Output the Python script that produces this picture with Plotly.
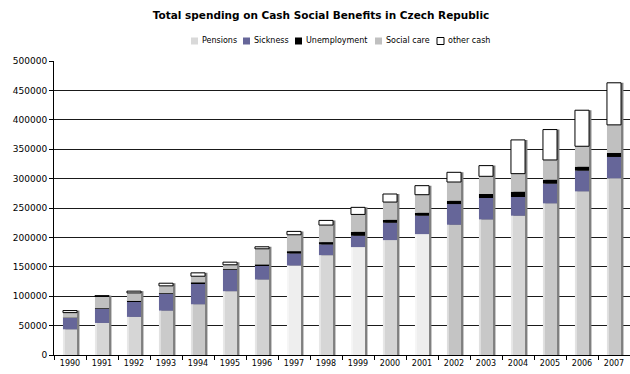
import numpy as np
import plotly.graph_objects as go

# ---- data -------------------------------------------------------------
years = [str(y) for y in range(1990, 2008)]

pensions = [43700, 54500, 64800, 75500, 86300, 108500, 128400, 152200, 169800,
            183500, 195400, 205600, 221500, 230600, 236900, 257900, 278300, 300500]
sickness = [19300, 23900, 26100, 28500, 35800, 36900, 23800, 20500, 18200,
            19300, 29500, 31300, 35200, 36400, 31800, 33500, 35200, 36300]
unemployment = [300, 1000, 1000, 1000, 1200, 500, 1500, 3900, 4000,
                6800, 5100, 5100, 5700, 6800, 9100, 6800, 6800, 6800]
social_care = [8800, 20100, 13700, 12600, 10700, 7500, 26900, 27900, 29000,
               29500, 30100, 30600, 31800, 30100, 30600, 33500, 34700, 47800]
other_cash = [3500, 1500, 3000, 4500, 5700, 4500, 3400, 5700, 7900,
              12000, 13700, 15400, 16500, 18200, 57400, 51700, 61300, 71500]

series_names = ["Pensions", "Sickness", "Unemployment", "Social care", "other cash"]
y_ticks = list(range(0, 500001, 50000))

# ---- styling ----------------------------------------------------------
W, H = 630, 374
M_L, M_R, M_T, M_B = 54, 0, 61, 19
PLOT_W, PLOT_H = W - M_L - M_R, H - M_T - M_B

FONT = "Verdana, DejaVu Sans, sans-serif"
pension_shades = ["#d6d6d6", "#d6d6d6", "#d6d6d6", "#cacaca", "#c8c8c8", "#d6d6d6",
                  "#d2d2d2", "#eeeeee", "#d6d6d6", "#eeeeee", "#d4d4d4", "#eeeeee",
                  "#c4c4c4", "#c8c8c8", "#d6d6d6", "#c8c8c8", "#cccccc", "#c8c8c8"]
series_colors = ["#d9d9d9", "#666699", "#000000", "#c0c0c0", "#ffffff"]
series_lines = [0, 0, 0, 0, 1]

bw = 0.44            # bar width in category units
shadow_shift = 0.075  # offset of the drop shadow to the right

series = [pensions, sickness, unemployment, social_care, other_cash]
totals = np.sum(np.array(series, dtype=float), axis=0)

fig = go.Figure()

# placeholder so the base y axis carries the tick labels
fig.add_trace(go.Scatter(x=[], y=[], showlegend=False, hoverinfo="skip"))

# drop shadow behind each stacked column
fig.add_trace(go.Bar(
    x=years, y=totals, base=0, width=bw, offset=-bw / 2 + shadow_shift,
    marker=dict(color="#7f7f7f", line=dict(width=0)),
    showlegend=False, hoverinfo="skip", yaxis="y2"))

base = np.zeros(len(years))
for i, (name, vals) in enumerate(zip(series_names, series)):
    vals = np.array(vals, dtype=float)
    color = pension_shades if i == 0 else series_colors[i]
    fig.add_trace(go.Bar(
        x=years, y=vals, base=base.copy(), width=bw, offset=-bw / 2,
        name=name,
        marker=dict(color=color,
                    line=dict(color="#000000", width=series_lines[i])),
        showlegend=False, yaxis="y2"))
    if i == 0:
        # light edge on the left of the pension segment
        fig.add_trace(go.Bar(
            x=years, y=vals, base=base.copy(), width=0.06, offset=-bw / 2,
            marker=dict(color="rgba(255,255,255,0.45)", line=dict(width=0)),
            showlegend=False, hoverinfo="skip", yaxis="y2"))
    base += vals

fig.update_layout(
    width=W, height=H,
    margin=dict(l=M_L, r=M_R, t=M_T, b=M_B),
    paper_bgcolor="white", plot_bgcolor="white",
    barmode="overlay",
    font=dict(family=FONT, size=8, color="#000000"),
    title=dict(text="<b>Total spending on Cash Social Benefits in Czech Republic</b>",
               x=321 / W, xref="container", xanchor="center",
               y=1 - 15 / H, yref="container", yanchor="middle",
               font=dict(family=FONT, size=10.5, color="#000000")),
    xaxis=dict(type="category", categoryorder="array", categoryarray=years,
               showline=True, linecolor="#000000", linewidth=1,
               ticks="outside", ticklen=4, tickcolor="#000000",
               tickson="boundaries", showgrid=False, zeroline=False,
               tickfont=dict(size=8), fixedrange=True),
    yaxis=dict(range=[0, 500000], tickvals=y_ticks,
               ticktext=[str(v) for v in y_ticks],
               showline=True, linecolor="#000000", linewidth=1,
               ticks="outside", ticklen=4, tickcolor="#000000",
               showgrid=False, zeroline=False, tickfont=dict(size=9)),
    yaxis2=dict(range=[0, 500000], overlaying="y",
                tickvals=y_ticks[1:-1], showticklabels=False, ticks="",
                showgrid=True, gridcolor="#1a1a1a", gridwidth=1,
                showline=False, zeroline=False),
)

# ---- legend row (compact, single line above the plot) ----------------
def px_x(px):
    return (px - M_L) / PLOT_W


def px_y(py):
    return (H - M_B - py) / PLOT_H


legend_swatch_x = [191, 243, 295, 375, 437]
legend_y = 41
sw = 7
for name, color, lw, sx in zip(series_names, series_colors, series_lines, legend_swatch_x):
    fig.add_shape(type="rect", xref="paper", yref="paper",
                  x0=px_x(sx), x1=px_x(sx + sw),
                  y0=px_y(legend_y + sw / 2), y1=px_y(legend_y - sw / 2),
                  fillcolor=color,
                  line=dict(color="#000000", width=lw))
    fig.add_annotation(x=px_x(sx + sw + 1.5), y=px_y(legend_y), xref="paper", yref="paper",
                       text=name, showarrow=False, xanchor="left", yanchor="middle",
                       font=dict(family=FONT, size=8, color="#000000"))

fig.write_html("out.html")
